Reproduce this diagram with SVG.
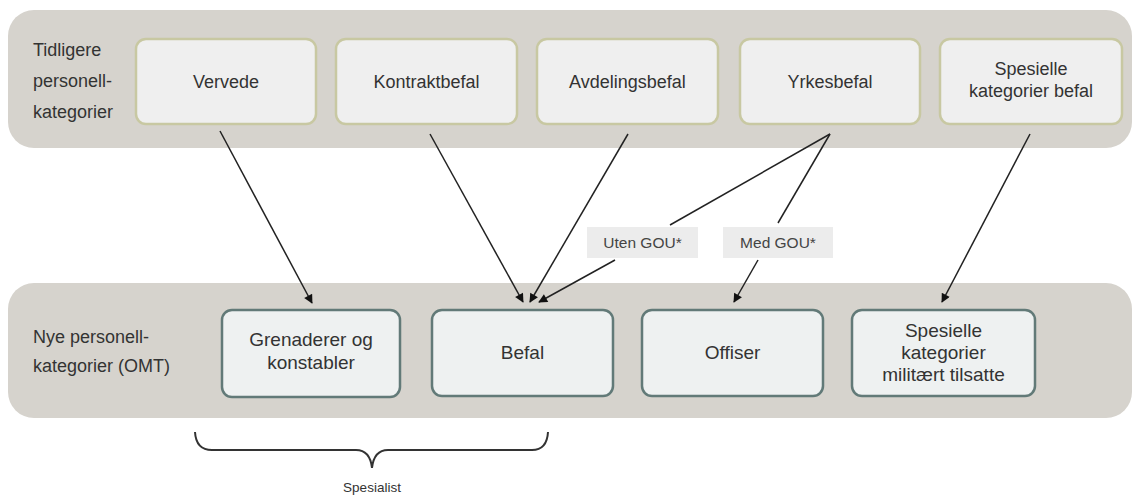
<svg xmlns="http://www.w3.org/2000/svg" width="1137" height="497" viewBox="0 0 1137 497">
  <style>
    .band { fill: #d6d3cd; }
    .old { fill: #efefef; stroke: #c8c8a2; stroke-width: 2.5; }
    .new { fill: #eef1f1; stroke: #627a78; stroke-width: 2.5; }
    .tag { fill: #ececec; }
    text { font-family: "Liberation Sans", Arial, sans-serif; fill: #333333; }
    .lbl { font-size: 18px; }
    .box { font-size: 18px; text-anchor: middle; }
    .nbox { font-size: 19px; text-anchor: middle; }
    .small { font-size: 15.5px; text-anchor: middle; fill: #444444; }
    .link { stroke: #222222; stroke-width: 1.5; fill: none; }
    .arrow { marker-end: url(#head); }
  </style>
  <defs>
    <marker id="head" viewBox="0 0 10 10" refX="9" refY="5" markerWidth="10" markerHeight="9" markerUnits="userSpaceOnUse" orient="auto">
      <path d="M0,0 L10,5 L0,10 z" fill="#111111"/>
    </marker>
  </defs>

  <rect width="1137" height="497" fill="#ffffff"/>

  <!-- category bands -->
  <g id="band-old">
    <rect class="band" x="8" y="10" width="1124" height="138" rx="26"/>
    <text class="lbl" x="33" y="56">Tidligere</text>
    <text class="lbl" x="33" y="87">personell-</text>
    <text class="lbl" x="33" y="118">kategorier</text>
  </g>
  <g id="band-new">
    <rect class="band" x="8" y="283" width="1124" height="135" rx="26"/>
    <text class="lbl" x="33" y="343">Nye personell-</text>
    <text class="lbl" x="33" y="372">kategorier (OMT)</text>
  </g>

  <!-- previous categories -->
  <g id="vervede">
    <rect class="old" x="136" y="39" width="180" height="85" rx="10"/>
    <text class="box" x="226" y="88">Vervede</text>
  </g>
  <g id="kontraktbefal">
    <rect class="old" x="336" y="39" width="181" height="85" rx="10"/>
    <text class="box" x="426.5" y="88">Kontraktbefal</text>
  </g>
  <g id="avdelingsbefal">
    <rect class="old" x="537" y="39" width="181" height="85" rx="10"/>
    <text class="box" x="627.5" y="88">Avdelingsbefal</text>
  </g>
  <g id="yrkesbefal">
    <rect class="old" x="740" y="39" width="180" height="85" rx="10"/>
    <text class="box" x="830" y="88">Yrkesbefal</text>
  </g>
  <g id="spesielle-befal">
    <rect class="old" x="940" y="39" width="182" height="85" rx="10"/>
    <text class="box" x="1031" y="75">Spesielle</text>
    <text class="box" x="1031" y="97">kategorier befal</text>
  </g>

  <!-- new categories -->
  <g id="grenaderer">
    <rect class="new" x="222" y="310" width="178" height="87" rx="10"/>
    <text class="nbox" x="311" y="346">Grenaderer og</text>
    <text class="nbox" x="311" y="369">konstabler</text>
  </g>
  <g id="befal">
    <rect class="new" x="432" y="310" width="181" height="86" rx="10"/>
    <text class="nbox" x="522.5" y="359">Befal</text>
  </g>
  <g id="offiser">
    <rect class="new" x="642" y="310" width="181" height="86" rx="10"/>
    <text class="nbox" x="732.5" y="359">Offiser</text>
  </g>
  <g id="spesielle-militaert">
    <rect class="new" x="852" y="310" width="183" height="86" rx="10"/>
    <text class="nbox" x="943.5" y="337">Spesielle</text>
    <text class="nbox" x="943.5" y="359">kategorier</text>
    <text class="nbox" x="943.5" y="381">militært tilsatte</text>
  </g>

  <!-- branch labels -->
  <g id="uten-gou">
    <rect class="tag" x="587" y="227" width="111" height="31"/>
    <text class="small" x="642.5" y="248">Uten GOU*</text>
  </g>
  <g id="med-gou">
    <rect class="tag" x="723" y="227" width="110" height="31"/>
    <text class="small" x="778" y="248">Med GOU*</text>
  </g>

  <!-- connectors -->
  <g id="connectors">
    <line class="link arrow" x1="220" y1="131" x2="312" y2="303"/>
    <line class="link arrow" x1="430" y1="134" x2="523" y2="302"/>
    <line class="link arrow" x1="628" y1="134" x2="530" y2="302"/>
    <line class="link" x1="830" y1="134" x2="670" y2="225"/>
    <line class="link arrow" x1="615" y1="260" x2="539" y2="302"/>
    <line class="link" x1="830" y1="134" x2="778" y2="223"/>
    <line class="link arrow" x1="758" y1="260" x2="734" y2="302"/>
    <line class="link arrow" x1="1030" y1="134" x2="942" y2="302"/>
  </g>

  <!-- specialist brace -->
  <g id="spesialist">
    <path d="M195,432 Q196,450 212,450 L356,450 Q370,450 372,468 Q374,450 388,450 L532,450 Q547,450 548,432" fill="none" stroke="#333333" stroke-width="2"/>
    <text x="372" y="492" font-size="13.5" text-anchor="middle" fill="#444444">Spesialist</text>
  </g>
</svg>
